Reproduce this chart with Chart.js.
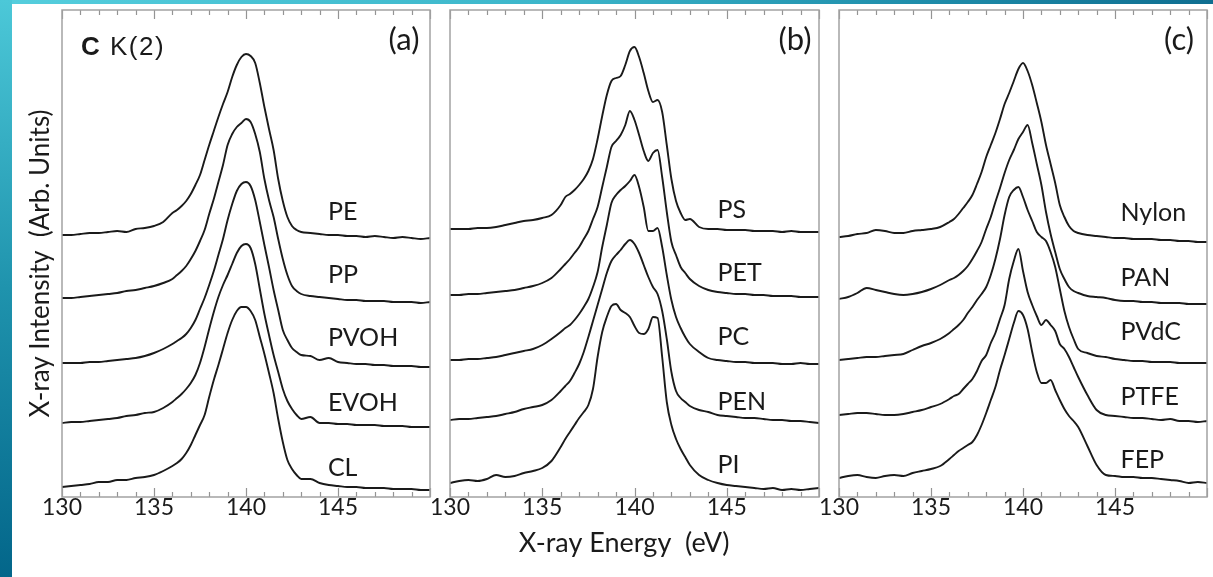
<!DOCTYPE html>
<html><head><meta charset="utf-8">
<script src="https://cdn.jsdelivr.net/npm/chart.js@4.4.1/dist/chart.umd.min.js"></script>
<style>
html,body{margin:0;padding:0;background:#fff;}
#wrap{position:relative;width:1213px;height:577px;overflow:hidden;background:#fff;}
#wrap canvas{position:absolute;left:0;top:0;}
#lbar{position:absolute;left:0;top:0;width:12px;height:577px;background:linear-gradient(to bottom,#4cc8d8 0%,#1f93ad 50%,#03668a 100%);}
#tbar{position:absolute;left:0;top:0;width:1213px;height:4px;background:linear-gradient(to right,#55cedd 0%,#3cb6ca 45%,#1f8eab 75%,#0f6e90 100%);}
</style></head>
<body>
<div id="wrap"><div id="tbar"></div><div id="lbar"></div>
<canvas id="ca" width="1213" height="577"></canvas>
<canvas id="cb" width="1213" height="577"></canvas>
<canvas id="cc" width="1213" height="577"></canvas>
</div>
<script>
// X-ray energy grid (eV)
const energy = [130,130.5,131,131.5,132,132.5,133,133.5,134,134.5,135,135.5,136,
 136.25,136.5,136.75,137,137.25,137.5,137.75,138,138.25,138.5,138.75,139,139.25,139.5,139.75,140,140.25,140.5,140.75,141,141.25,141.5,141.75,142,142.25,142.5,142.75,143,
 143.5,144,144.5,145,145.5,146,146.5,147,147.5,148,148.5,149,149.5,150];
const tickLabels = [130,135,140,145];

// Panel (a) – offset intensities (arb. units)
const PE   = [262,262,263,264,264,265,266,265,268,269,271,275,284,
 287,291,296,303,312,322,337,352,366,380,393,405,420,432,440,443,441,434,414,390,368,347,318,296,280,271,267,265,
 264,263,262,262,261,261,260,261,260,259,260,259,258,259];
const PP   = [199,199,200,201,202,203,204,206,207,209,211,214,218,
 222,226,231,238,246,256,267,283,298,315,332,352,363,370,374,378,375,363,345,318,297,280,258,238,222,211,206,203,
 201,200,199,198,197,197,196,196,196,195,195,195,194,195];
const PVOH = [134,134,134,135,135,136,137,138,139,141,144,148,153,
 156,159,163,169,177,188,199,212,226,242,258,277,293,306,313,315,311,297,275,252,230,207,187,167,157,149,145,142,
 141,137,139,135,134,133,133,132,132,131,131,131,130,130];
const EVOH = [74,75,75,76,77,78,79,81,82,84,85,89,95,
 99,103,108,114,122,134,150,168,185,200,212,222,233,244,251,253,249,233,208,183,162,142,125,108,96,88,82,78,
 80,74,74,73,73,72,72,72,71,71,71,70,70,70];
const CL   = [10,11,12,13,15,15,17,17,19,20,22,26,31,
 34,38,44,52,62,72,82,100,117,132,148,164,177,186,190,190,186,177,160,143,124,104,78,55,37,28,22,18,
 18,14,12,11,10,10,9,9,9,8,8,8,7,7];

// Panel (b)
const PS   = [268,268,268,269,269,270,272,274,276,277,279,282,292,
 300,303,307,312,318,326,338,358,381,402,416,419,421,432,446,450,440,424,406,395,397,385,352,318,296,284,277,278,
 270,268,268,267,267,267,266,266,266,265,266,265,265,265];
const PET  = [202,202,203,203,204,205,206,207,209,211,214,219,228,
 233,238,244,250,258,266,278,290,310,330,350,356,362,372,386,377,362,346,336,344,347,320,285,255,242,230,224,218,
 211,207,205,204,203,203,202,202,201,201,201,200,200,200];
const PC   = [137,137,138,138,139,140,142,144,146,148,152,158,165,
 169,172,177,183,190,198,210,225,250,272,294,302,307,311,316,322,310,290,266,266,269,250,222,197,180,169,160,153,
 145,139,137,136,135,135,134,134,134,133,133,134,133,133];
const PEN  = [77,78,78,79,80,81,83,85,88,90,92,97,106,
 111,116,124,133,145,160,176,192,208,224,236,242,247,253,257,253,244,232,220,210,203,186,158,125,106,99,95,91,
 87,85,82,81,80,79,79,78,77,77,76,76,75,74];
const PI   = [14,16,17,16,18,22,20,21,24,26,29,36,50,
 58,65,72,79,85,92,108,140,165,180,191,193,187,184,180,171,164,163,168,180,179,140,95,72,58,48,40,32,
 22,17,14,12,11,10,9,8,9,7,8,7,8,9];

// Panel (c)
const Nylon = [260,261,263,264,267,266,264,264,266,267,268,270,275,
 278,283,289,295,302,313,325,340,352,364,378,393,404,416,428,434,426,412,394,375,352,333,314,292,280,271,266,264,
 262,261,260,259,259,258,258,258,257,257,256,256,255,255];
const PAN  = [198,200,204,209,207,205,203,202,203,205,208,212,217,
 219,222,226,231,238,246,255,268,280,295,309,324,337,347,358,365,372,354,333,312,285,263,245,228,218,210,206,204,
 201,200,199,197,196,196,195,195,194,194,194,193,193,193];
const PVdC = [137,138,139,140,140,141,142,143,147,151,154,158,164,
 168,172,177,184,190,197,203,210,222,238,258,282,300,307,310,300,287,276,265,260,256,245,230,208,186,170,158,148,
 144,141,140,138,137,136,136,135,135,135,134,134,134,134];
const PTFE = [82,83,84,84,83,82,82,83,85,87,90,93,98,
 101,103,108,113,118,126,136,142,154,164,178,192,218,236,248,226,205,192,181,172,177,172,166,153,148,140,130,120,
 102,87,82,81,80,79,79,78,77,78,76,76,75,76];
const FEP  = [19,21,22,20,19,21,22,21,24,26,28,31,38,
 42,46,49,52,55,62,72,84,97,110,127,142,158,174,186,182,168,145,125,114,114,117,107,97,88,81,76,70,
 51,32,22,21,20,20,19,19,18,17,16,14,15,14];

const namesA = ['PE','PP','PVOH','EVOH','CL'];
const namesB = ['PS','PET','PC','PEN','PI'];
const namesC = ['Nylon','PAN','PVdC','PTFE','FEP'];
const seriesA = [PE,PP,PVOH,EVOH,CL];
const seriesB = [PS,PET,PC,PEN,PI];
const seriesC = [Nylon,PAN,PVdC,PTFE,FEP];

// label anchor values (energy, intensity) for each curve name
const labelEnergyA = 144.45, labelIntA = [285,222,159,94,29];
const labelEnergyB = 144.5,  labelIntB = [287,224,160,95,32];
const labelEnergyC = 145.3,  labelIntC = [284,219,165,100,37];

const INK = '#1a1a1a';
const FRAME = '#a2a2a2';
const NB = '\u00a0';

const panelPlugin = {
  id: 'panelDeco',
  afterDraw(chart, args, o) {
    const ctx = chart.ctx, a = chart.chartArea, xs = chart.scales.x, ys = chart.scales.y;
    ctx.save();
    // ticks (inward, top & bottom)
    ctx.strokeStyle = '#949494'; ctx.lineWidth = 1.2;
    for (let v = 130; v <= 150; v++) {
      const px = Math.round(xs.getPixelForValue(v)) + 0.5;
      const len = (v % 5 === 0) ? 9 : 5;
      ctx.beginPath();
      ctx.moveTo(px, a.bottom); ctx.lineTo(px, a.bottom - len);
      ctx.moveTo(px, a.top); ctx.lineTo(px, a.top + len);
      ctx.stroke();
    }
    // frame
    ctx.strokeStyle = FRAME; ctx.lineWidth = 1.5;
    ctx.strokeRect(a.left, a.top, a.right - a.left, a.bottom - a.top);
    // curve labels
    ctx.fillStyle = INK;
    ctx.font = '25px Lato';
    ctx.textAlign = 'left'; ctx.textBaseline = 'middle';
    o.names.forEach((n, i) => {
      ctx.fillText(n, xs.getPixelForValue(o.labelE), ys.getPixelForValue(o.labelI[i]));
    });
    // panel tag
    ctx.font = '31px Lato'; ctx.textAlign = 'center';
    ctx.fillText(o.tag, o.tagX, 40);
    if (o.element) {
      ctx.textAlign = 'left'; ctx.textBaseline = 'alphabetic';
      ctx.font = 'bold 26px "Liberation Sans"';
      ctx.fillText('C', 81, 55);
      ctx.font = '26px "Liberation Sans"';
      if ('letterSpacing' in ctx) ctx.letterSpacing = '1.5px';
      ctx.fillText('K(2)', 110, 55);
      if ('letterSpacing' in ctx) ctx.letterSpacing = '0px';
    }
    ctx.restore();
  }
};

function makeChart(id, names, series, labelE, labelI, tag, tagX, pad, opts) {
  const datasets = series.map((s, k) => ({
    label: names[k],
    data: energy.map((e, i) => ({x: e, y: s[i]})),
    borderColor: INK, borderWidth: 1.9, pointRadius: 0, fill: false,
    cubicInterpolationMode: 'monotone'
  }));
  const yScale = opts.yTitle ? {
    min: 0, max: 487, display: true,
    grid: {display: false, drawTicks: false}, border: {display: false},
    ticks: {display: false},
    title: {display: true, text: 'X-ray Intensity  (Arb. Units)' + NB + NB + NB, color: INK,
            font: {family: 'Lato', size: 26}, padding: {top: 13, bottom: 0}},
    afterFit(s) { s.width = 50; }
  } : {min: 0, max: 487, display: false};
  return new Chart(document.getElementById(id), {
    type: 'line',
    data: {datasets},
    plugins: [panelPlugin],
    options: {
      responsive: false, animation: false, devicePixelRatio: 1, events: [],
      layout: {padding: pad},
      plugins: {legend: {display: false}, tooltip: {enabled: false},
        panelDeco: {names, labelE, labelI, tag, tagX, element: !!opts.element}},
      scales: {
        x: {
          type: 'linear', min: 130, max: 150,
          grid: {display: false, drawTicks: false}, border: {display: false},
          ticks: {stepSize: 1, autoSkip: false, maxRotation: 0, minRotation: 0, padding: 0,
                  color: INK, font: {family: 'Lato', size: 23, lineHeight: 0.9},
                  callback: v => tickLabels.includes(v) ? String(v) : ''},
          title: opts.xTitle ? {display: true, text: 'X-ray Energy  (eV)' + NB + NB + NB, color: INK,
                  font: {family: 'Lato', size: 27}, padding: {top: 0, bottom: 8}} : {display: false},
          afterFit(s) { s.height = 70; }
        },
        y: yScale
      }
    }
  });
}

makeChart('ca', namesA, seriesA, labelEnergyA, labelIntA, '(a)', 404, {left: 12, right: 783, top: 10, bottom: 10}, {yTitle: true, element: true});
makeChart('cb', namesB, seriesB, labelEnergyB, labelIntB, '(b)', 795, {left: 450, right: 394, top: 10, bottom: 10}, {xTitle: true});
makeChart('cc', namesC, seriesC, labelEnergyC, labelIntC, '(c)', 1179, {left: 839, right: 6, top: 10, bottom: 10}, {});
</script>
</body></html>
